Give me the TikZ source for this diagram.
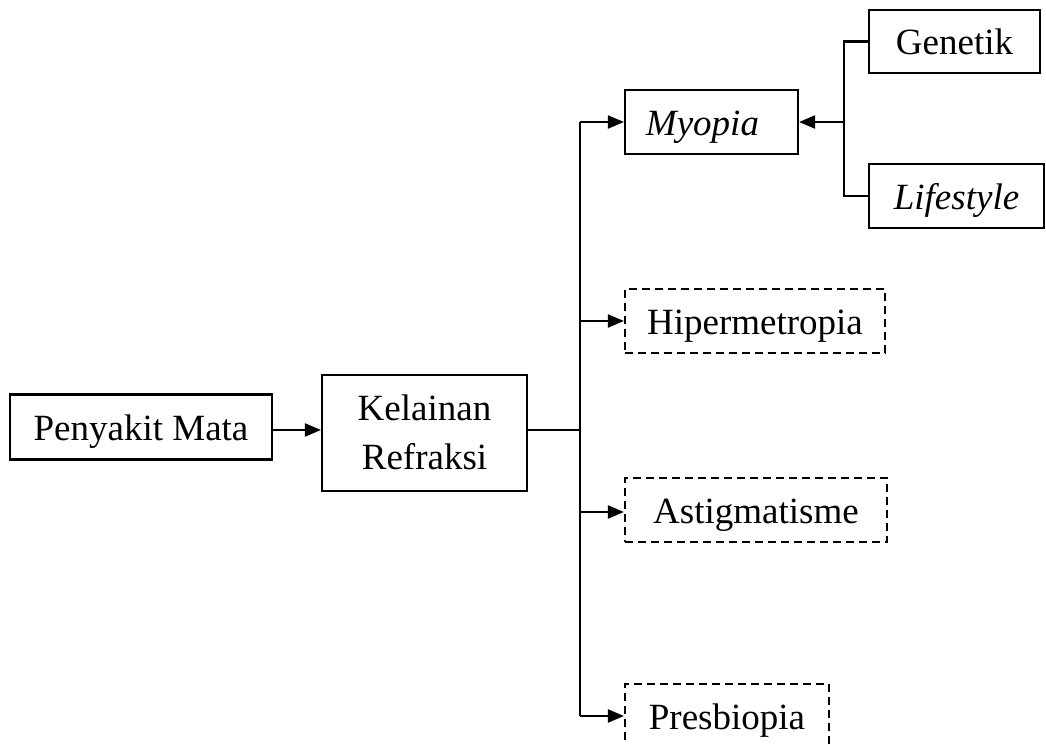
\documentclass[tikz,border=0pt]{standalone}
\usepackage{fontspec}
\setmainfont{Liberation Serif}
\usetikzlibrary{arrows.meta,calc}
\newcommand{\dnbox}[1]{\raisebox{-13pt}[0pt][0pt]{#1}}
\begin{document}
\begin{tikzpicture}[x=1pt,y=-1pt,
  box/.style={draw,line width=2.2pt,inner sep=0pt,align=center,
    font=\fontsize{37}{49}\selectfont},
  dbox/.style={box,dash pattern=on 8pt off 5pt},
  conn/.style={line width=2.2pt},
  arr/.style={conn,-{Triangle[length=16pt,width=13pt]}}]
\useasboundingbox (0,0) rectangle (1046,744);
\node[box,minimum width=262pt,minimum height=65pt] (pm) at (141,427) {\dnbox{Penyakit Mata}};
\node[box,minimum width=205pt,minimum height=116pt] (kr) at (424.5,433) {\raisebox{13pt}[0pt][0pt]{\begin{tabular}[t]{@{}c@{}}Kelainan\\Refraksi\end{tabular}}};
\node[box,minimum width=173pt,minimum height=64pt] (my) at (711.5,122) {\dnbox{\itshape Myopia}\hspace{18pt}};
\node[box,minimum width=171pt,minimum height=63pt] (ge) at (954.5,41.5) {\dnbox{Genetik}};
\node[box,minimum width=175pt,minimum height=64pt] (li) at (956.5,196) {\dnbox{\itshape Lifestyle}};
\node[dbox,minimum width=260pt,minimum height=64pt] (hi) at (755,321) {\dnbox{Hipermetropia}};
\node[dbox,minimum width=262pt,minimum height=64pt] (as) at (756,510) {\dnbox{Astigmatisme}};
\node[dbox,minimum width=204pt,minimum height=64pt] (pr) at (727,716) {\dnbox{Presbiopia}};
\coordinate (j1) at (580,430);
\coordinate (j2) at (844,122);
\coordinate (top) at (580,122);
\coordinate (bot) at (580,716);
% Penyakit -> Kelainan
\draw[arr] (pm.east |- j1) -- (kr.west |- j1);
% Kelainan -> trunk
\draw[conn] (kr.east |- j1) -- (j1);
\draw[conn] (top) -- (bot);
\draw[arr] (top) -- (my.west);
\draw[arr] (580,321) -- (hi.west);
\draw[arr] (580,512) -- (as.west |- 580,512);
\draw[arr] (bot) -- (pr.west);
% Genetik/Lifestyle -> Myopia
\draw[conn] (ge.west) -| (j2) |- (li.west);
\draw[arr] (j2) -- (my.east);
\end{tikzpicture}
\end{document}
